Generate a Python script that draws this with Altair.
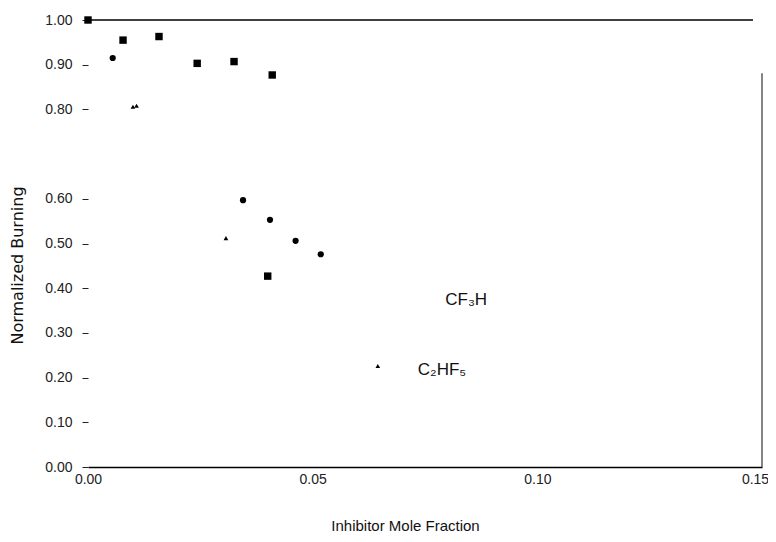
import altair as alt
import pandas as pd

# Data
sq_x = [0.0, 0.0078, 0.0158, 0.0243, 0.0325, 0.0410, 0.0400]
sq_y = [1.00, 0.955, 0.963, 0.903, 0.907, 0.877, 0.427]
ci_x = [0.0, 0.0055, 0.0345, 0.0405, 0.0462, 0.0518]
ci_y = [1.00, 0.915, 0.597, 0.553, 0.506, 0.476]
tr_x = [0.0, 0.0100, 0.0108, 0.0307, 0.0645]
tr_y = [1.00, 0.806, 0.808, 0.512, 0.226]

labels = ["CF\u2083H", "C\u2082HF\u2085"]
label_x = [0.0795, 0.0734]
label_y = [0.374, 0.217]

y_ticks = [0.0, 0.1, 0.2, 0.3, 0.4, 0.5, 0.6, 0.8, 0.9, 1.0]
x_ticks = [0.0, 0.05, 0.10, 0.15]

rows = []
for s, xs, ys in [("sq", sq_x, sq_y), ("ci", ci_x, ci_y), ("tr", tr_x, tr_y)]:
    for a, b in zip(xs, ys):
        rows.append({"series": s, "x": a, "y": b})
df = pd.DataFrame(rows)
lab = pd.DataFrame({"label": labels, "x": label_x, "y": label_y})

FONT = "Liberation Sans"
xs = alt.Scale(domain=[0, 0.15], nice=False, zero=False)
ys = alt.Scale(domain=[0, 1.0], nice=False)

base = alt.Chart(df)

points = base.mark_point(filled=True, opacity=1, color="black").encode(
    x=alt.X("x:Q", scale=xs,
            axis=alt.Axis(title="Inhibitor Mole Fraction", values=x_ticks, format=".2f",
                          ticks=False, grid=False, domainColor="black", domainWidth=1.5,
                          labelFlush=False, labelPadding=5, titlePadding=32,
                          labelOffset={"condition": {"test": "datum.value >= 0.149", "value": -7},
                                       "value": 0},
                          titleX=317, titleAlign="center", titleFontSize=15)),
    y=alt.Y("y:Q", scale=ys,
            axis=alt.Axis(title="Normalized Burning", values=y_ticks, format=".2f",
                          grid=False, domain=False, tickSize=6, tickColor="#222",
                          labelPadding=10, titlePadding=19, titleY=245,
                          titleFont="DejaVu Sans", titleFontSize=16)),
    shape=alt.Shape("series:N", scale=alt.Scale(domain=["sq", "ci", "tr"],
                                                 range=["square", "circle", "triangle-up"]),
                    legend=None),
    size=alt.Size("series:N", scale=alt.Scale(domain=["sq", "ci", "tr"], range=[55, 22, 80]),
                  legend=None),
)

top_line = alt.Chart(pd.DataFrame({"y": [1.0], "x0": [0.0], "x1": [0.148]})).mark_rule(
    color="black", strokeWidth=1.5).encode(x=alt.X("x0:Q", scale=xs), x2="x1:Q",
                                          y=alt.Y("y:Q", scale=ys))
right_line = alt.Chart(pd.DataFrame({"x": [0.15], "y0": [0.0], "y1": [0.881]})).mark_rule(
    color="#333", strokeWidth=1.2).encode(x=alt.X("x:Q", scale=xs),
                                         y=alt.Y("y0:Q", scale=ys), y2="y1:Q")

texts = alt.Chart(lab).mark_text(align="left", baseline="middle", fontSize=17,
                                 font=FONT, color="#111").encode(
    x=alt.X("x:Q", scale=xs), y=alt.Y("y:Q", scale=ys), text="label:N")

chart = alt.layer(top_line, right_line, points, texts).properties(
    width=674, height=447,
    autosize=alt.AutoSizeParams(type="none"),
    padding={"left": 80, "top": 12, "right": 6, "bottom": 67},
).configure_view(stroke=None).configure_axis(
    labelFont=FONT, titleFont=FONT, labelFontSize=14,
    titleFontWeight="normal", labelColor="#222", titleColor="#111",
)

chart.save("out.html", embed_options={"renderer": "svg", "actions": False})
